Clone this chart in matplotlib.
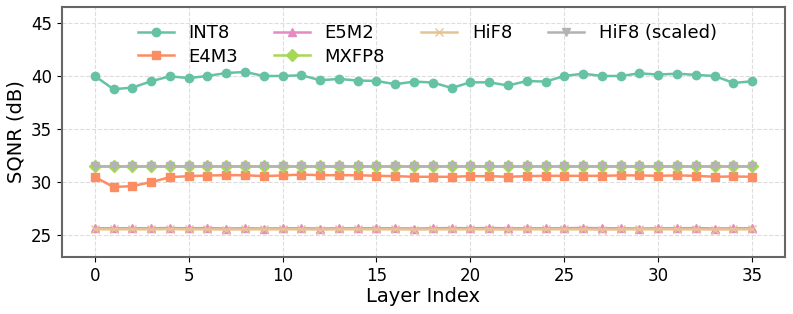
import matplotlib.pyplot as plt
import numpy as np

# SQNR per layer
layers = np.arange(36)

int8 = [40.0, 38.75, 38.9, 39.5, 39.97, 39.8, 40.0, 40.28, 40.38, 40.0,
        40.0, 40.07, 39.6, 39.72, 39.57, 39.53, 39.22, 39.47, 39.38, 38.87,
        39.4, 39.4, 39.1, 39.52, 39.47, 40.0, 40.22, 40.0, 40.0, 40.25,
        40.13, 40.22, 40.1, 40.0, 39.34, 39.5]
e4m3 = [30.47, 29.5, 29.59, 29.96, 30.43, 30.53, 30.59, 30.62, 30.62, 30.53,
        30.6, 30.68, 30.62, 30.62, 30.62, 30.56, 30.53, 30.47, 30.47, 30.47,
        30.53, 30.53, 30.47, 30.53, 30.56, 30.56, 30.56, 30.56, 30.6, 30.6,
        30.56, 30.6, 30.56, 30.47, 30.5, 30.47]
e5m2 = [25.6, 25.6, 25.6, 25.6, 25.62, 25.6, 25.62, 25.58, 25.6, 25.58,
        25.6, 25.6, 25.58, 25.6, 25.6, 25.6, 25.6, 25.58, 25.6, 25.62,
        25.6, 25.63, 25.6, 25.6, 25.6, 25.6, 25.64, 25.6, 25.6, 25.58,
        25.6, 25.6, 25.62, 25.58, 25.6, 25.6]
mxfp8 = [31.5] * 36
hif8 = [25.5, 25.5, 25.5, 25.5, 25.52, 25.5, 25.5, 25.48, 25.5, 25.5,
        25.5, 25.5, 25.48, 25.5, 25.5, 25.5, 25.5, 25.48, 25.5, 25.5,
        25.5, 25.5, 25.48, 25.5, 25.5, 25.5, 25.5, 25.48, 25.5, 25.5,
        25.5, 25.5, 25.5, 25.48, 25.5, 25.5]
hif8_scaled = [31.45] * 36

names = ["INT8", "E4M3", "E5M2", "MXFP8", "HiF8", "HiF8 (scaled)"]
series = [int8, e4m3, e5m2, mxfp8, hif8, hif8_scaled]
colors = ["#66c2a5", "#fc8d62", "#e78ac3", "#a6d854", "#e5c494", "#b3b3b3"]
markers = ["o", "s", "^", "D", "x", "v"]

fig, ax = plt.subplots(figsize=(7.93, 3.14), dpi=100)

for name, vals, c, m in zip(names, series, colors, markers):
    ax.plot(layers, vals, color=c, marker=m, markersize=6, linewidth=1.8, label=name)

ax.set_ylim(22.9, 46.5)
ax.set_xticks([0, 5, 10, 15, 20, 25, 30, 35])
ax.set_yticks([25, 30, 35, 40, 45])
ax.set_xlabel("Layer Index", fontsize=14, labelpad=2)
ax.set_ylabel("SQNR (dB)", fontsize=14)
ax.tick_params(labelsize=12)
ax.grid(True, linestyle="--", color="#dddddd", linewidth=0.8)

for s in ax.spines.values():
    s.set_color("#666666")
    s.set_linewidth(1.5)

ax.legend(loc="upper left", bbox_to_anchor=(0.09, 0.975), ncol=4, frameon=False,
          fontsize=13, borderaxespad=0.2, labelspacing=0.3)

plt.subplots_adjust(left=0.078, right=0.99, top=0.977, bottom=0.182)
plt.savefig("out.png", dpi=100)
